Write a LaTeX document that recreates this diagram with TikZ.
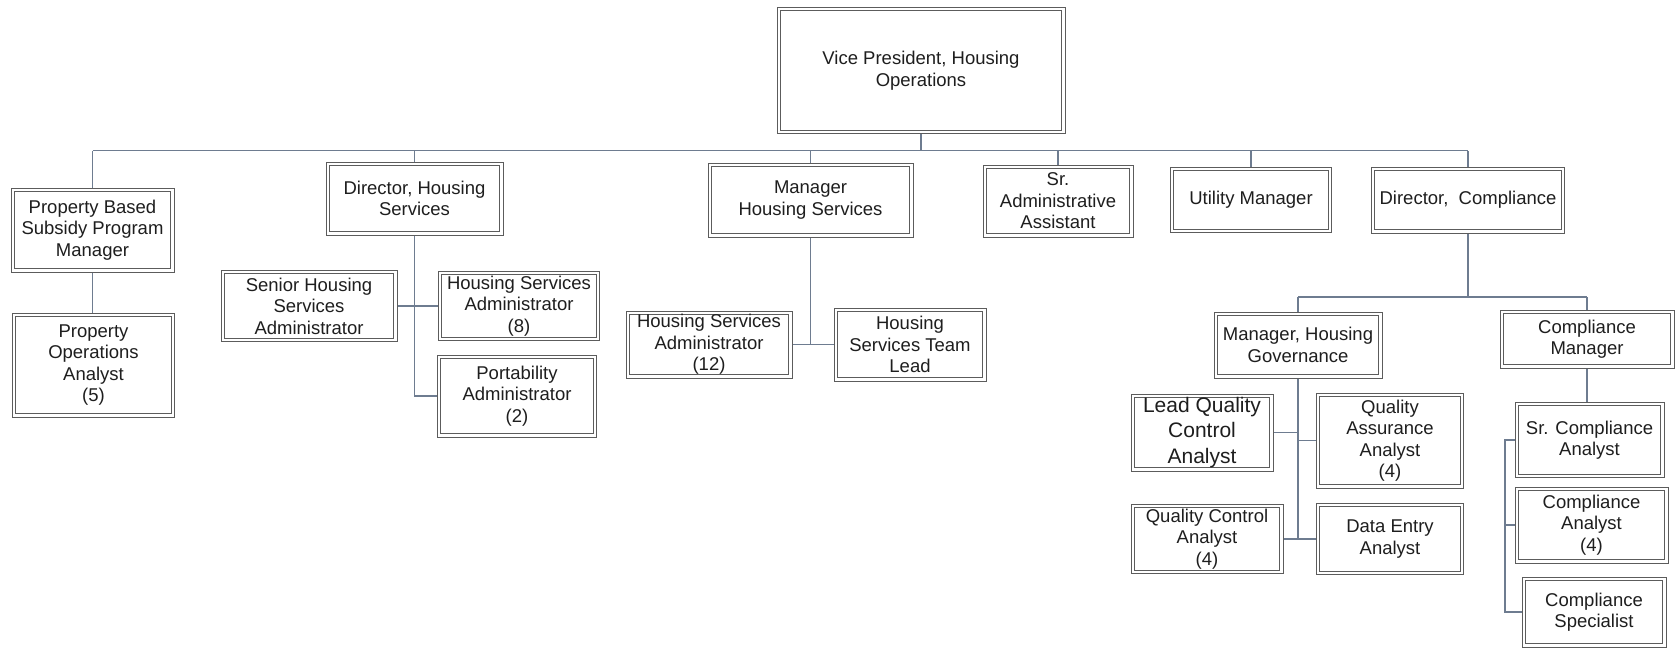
\documentclass[tikz,border=0pt]{standalone}
\usepackage{fontspec}
\setmainfont{Liberation Sans}
\definecolor{boxline}{HTML}{5C5C5C}
\definecolor{linkline}{HTML}{6E7C90}
\definecolor{ink}{HTML}{1E1E1E}
\begin{document}
\begin{tikzpicture}[x=1pt,y=-1pt,
  box/.style={draw=boxline, line width=1pt,
    path picture={\draw[boxline, line width=1pt]
      ([shift={(3.2pt,3.2pt)}]path picture bounding box.south west) rectangle
      ([shift={(-3.2pt,-3.2pt)}]path picture bounding box.north east);},
    inner sep=0pt, align=center, text=ink, font=\fontsize{18.5}{21.5}\selectfont},
  bigtext/.style={font=\fontsize{21}{25.5}\selectfont},
  link/.style={draw=linkline, line width=1.4pt}]
\useasboundingbox[fill=white] (0,0) rectangle (1675,648);

% top level
\node[box, minimum width=288pt, minimum height=126pt] (vp) at (921,70.5) {Vice President, Housing\\Operations};

% second level
\node[box, minimum width=163pt, minimum height=84pt] (pbm) at (92.5,230) {Property Based\\Subsidy Program\\Manager};
\node[box, minimum width=177pt, minimum height=73pt] (dh) at (414.5,198.5) {Director, Housing\\Services};
\node[box, minimum width=205pt, minimum height=74pt] (mhs) at (810.5,200) {Manager\\Housing Services};
\node[box, minimum width=150pt, minimum height=72pt] (sra) at (1058,201) {Sr.\\Administrative\\Assistant};
\node[box, minimum width=161pt, minimum height=65pt] (um) at (1251,200) {Utility Manager};
\node[box, minimum width=193pt, minimum height=66pt] (dc) at (1468,200) {Director,~ Compliance};

% property based subsidy program
\node[box, minimum width=162pt, minimum height=104pt] (poa) at (93.5,365) {Property\\Operations\\Analyst\\(5)};

% director, housing services
\node[box, minimum width=176pt, minimum height=71pt] (shsa) at (309,306) {Senior Housing\\Services\\Administrator};
\node[box, minimum width=161pt, minimum height=69pt] (hsa8) at (519,306) {Housing Services\\Administrator\\(8)};
\node[box, minimum width=159pt, minimum height=82pt] (port) at (517,396) {Portability\\Administrator\\(2)};

% manager housing services
\node[box, minimum width=166pt, minimum height=67pt] (hsa12) at (709,344.5) {Housing Services\\Administrator\\(12)};
\node[box, minimum width=152pt, minimum height=73pt] (tl) at (910,344.5) {Housing\\Services Team\\Lead};

% director, compliance
\node[box, minimum width=168pt, minimum height=66pt] (mhg) at (1298,345) {Manager, Housing\\Governance};
\node[box, minimum width=174pt, minimum height=58pt] (cm) at (1587,339) {Compliance\\Manager};

% manager, housing governance
\node[box, bigtext, minimum width=142pt, minimum height=77pt] (lqca) at (1202,432.5) {Lead Quality\\Control\\Analyst};
\node[box, minimum width=147pt, minimum height=95pt] (qaa) at (1390,440.5) {Quality\\Assurance\\Analyst\\(4)};
\node[box, minimum width=152pt, minimum height=69pt] (qca) at (1207,539) {Quality Control\\Analyst\\(4)};
\node[box, minimum width=147pt, minimum height=71pt] (de) at (1390,539) {Data Entry\\Analyst};

% compliance manager
\node[box, minimum width=149pt, minimum height=75pt] (sca) at (1589.5,440) {Sr. Compliance\\Analyst};
\node[box, minimum width=153pt, minimum height=76pt] (ca) at (1591.5,525) {Compliance\\Analyst\\(4)};
\node[box, minimum width=144pt, minimum height=70pt] (cs) at (1594,612) {Compliance\\Specialist};

% main bus under the vice president
\coordinate (bus) at (0,150.6);
\draw[link, line width=2pt] (vp.south) -- (vp.south |- bus);
\draw[link] (pbm.north |- bus) -- (dc.north |- bus);
\foreach \n in {pbm,dh,mhs,sra,um,dc}
  \draw[link] (\n.north) -- (\n.north |- bus);

% property based subsidy program
\draw[link] (pbm.south) -- (pbm.south |- poa.north);

% director, housing services
\draw[link] (dh.south) -- (dh.south |- port.west) -- (port.west);
\draw[link] (shsa.east) -- (hsa8.west);

% manager housing services
\draw[link] (mhs.south) -- (mhs.south |- hsa12.east);
\draw[link] (hsa12.east) -- (tl.west);

% director, compliance
\coordinate (sub) at (0,297);
\draw[link] (dc.south) -- (dc.south |- sub);
\draw[link] (mhg.north |- sub) -- (cm.north |- sub);
\draw[link] (mhg.north) -- (mhg.north |- sub);
\draw[link] (cm.north) -- (cm.north |- sub);

% manager, housing governance
\draw[link] (mhg.south) -- (mhg.south |- qca.east);
\draw[link] (lqca.east) -- (lqca.east -| mhg.south);
\draw[link] (qaa.west) -- (qaa.west -| mhg.south);
\draw[link] (qca.east) -- (de.west);

% compliance manager
\coordinate (cmv) at (1505,0);
\draw[link] (cm.south) -- (cm.south |- sca.north);
\draw[link] (sca.west) -- (sca.west -| cmv) -- (cs.west -| cmv) -- (cs.west);
\draw[link] (ca.west) -- (ca.west -| cmv);
\end{tikzpicture}
\end{document}
